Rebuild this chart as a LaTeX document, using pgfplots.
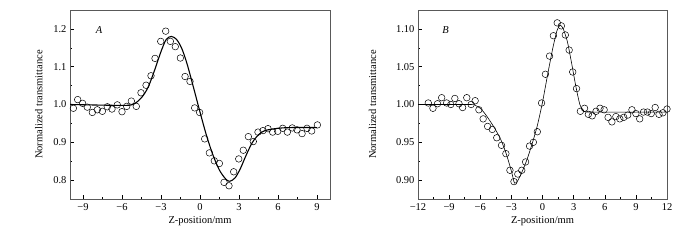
\documentclass[border=0pt]{standalone}
\usepackage{fontspec}
\setmainfont{Liberation Serif}
\usepackage{pgfplots}
\pgfplotsset{compat=1.18}
\pgfplotsset{
  zstyle/.style={
    scale only axis,
    anchor=south west,
    font=\fontsize{10.5}{12}\selectfont,
    tick label style={font=\fontsize{10.5}{12}\selectfont},
    axis line style={black!65, line width=0.8pt},
    tick align=inside,
    xtick pos=bottom, ytick pos=left,
    major tick length=4pt, minor tick length=2pt,
    every tick/.style={black, line width=0.5pt},
    minor x tick num=1, minor y tick num=1,
    xlabel={Z-position/mm},
    ylabel={Normalized transmittance},
    x label style={at={(axis description cs:0.5,-0.116)}, anchor=center},
    xticklabel style={yshift=-1pt},
  }
}
\begin{document}
\begin{tikzpicture}
\path (0pt,0pt) rectangle (700pt,240pt);
% ---------- Panel A ----------
\begin{axis}[zstyle,
  at={(70pt,41pt)}, width=260pt, height=189pt,
  xmin=-10, xmax=10, ymin=0.75, ymax=1.25,
  xtick={-9,-6,-3,0,3,6,9},
  xticklabels={−9,−6,−3,0,3,6,9},
  ytick={0.8,0.9,1.0,1.1,1.2},
  yticklabels={0.8,0.9,1.0,1.1,1.2},
  y label style={at={(axis description cs:-0.12,0.5)}, anchor=center},
]
\addplot[black, line width=1.1pt, smooth, tension=0.5] coordinates {
(-10,1.0) (-7,0.998) (-5.5,0.998) (-5,1.003) (-4.5,1.018) (-4,1.045) (-3.5,1.09)
(-3,1.14) (-2.6,1.172) (-2.2,1.18) (-1.8,1.172) (-1.4,1.148) (-1,1.108) (-0.5,1.045)
(0,0.98) (0.5,0.918) (1,0.866) (1.5,0.826) (2,0.802) (2.3,0.797) (2.7,0.806)
(3.1,0.83) (3.5,0.862) (4,0.898) (4.5,0.92) (5,0.931) (6,0.937) (7,0.939) (9,0.939)
};
\addplot[only marks, mark=o, mark size=3.3pt, mark options={line width=0.5pt}, black] coordinates {
(-9.74,0.990) (-9.41,1.013) (-9.03,1.003) (-8.67,0.993) (-8.28,0.979) (-7.90,0.986)
(-7.51,0.982) (-7.13,0.994) (-6.77,0.988) (-6.36,0.999) (-6.00,0.981) (-5.64,0.995)
(-5.28,1.009) (-4.90,0.995) (-4.54,1.031) (-4.15,1.051) (-3.77,1.076) (-3.46,1.122)
(-3.02,1.167) (-2.64,1.194) (-2.28,1.167) (-1.90,1.153) (-1.51,1.123) (-1.15,1.074)
(-0.77,1.061) (-0.41,0.991) (-0.03,0.979) (0.36,0.909) (0.72,0.872) (1.10,0.851)
(1.49,0.844) (1.85,0.794) (2.23,0.785) (2.59,0.822) (2.98,0.856) (3.33,0.879)
(3.72,0.915) (4.10,0.902) (4.46,0.927) (4.85,0.931) (5.23,0.936) (5.59,0.927)
(5.98,0.929) (6.36,0.937) (6.72,0.927) (7.10,0.938) (7.46,0.933) (7.85,0.923)
(8.23,0.937) (8.59,0.930) (9.03,0.946)
};
\node[font=\fontsize{10.5}{12}\selectfont\itshape] at (axis cs:-7.77,1.198) {A};
\end{axis}
% ---------- Panel B ----------
\begin{axis}[zstyle,
  at={(418pt,41pt)}, width=249pt, height=189pt,
  xmin=-12, xmax=12, ymin=0.875, ymax=1.125,
  xtick={-12,-9,-6,-3,0,3,6,9,12},
  xticklabels={−12,−9,−6,−3,0,3,6,9,12},
  ytick={0.90,0.95,1.00,1.05,1.10},
  yticklabels={0.90,0.95,1.00,1.05,1.10},
  y label style={at={(axis description cs:-0.183,0.5)}, anchor=center},
]
\addplot[black, line width=0.6pt, smooth, tension=0.4] coordinates {
(-12,1.0) (-7,1.0) (-6.5,0.999) (-6,0.995) (-5.5,0.987) (-5,0.977) (-4.5,0.966)
(-4,0.953) (-3.5,0.935) (-3,0.912) (-2.7,0.896) (-2.4,0.899) (-2,0.91) (-1.5,0.927)
(-1,0.948) (-0.5,0.972) (0,1.003) (0.5,1.04) (1,1.075) (1.4,1.098) (1.7,1.105)
(2,1.1) (2.4,1.083) (2.8,1.055) (3.2,1.025) (3.6,1.0) (4,0.991) (5,0.99) (12,0.99)
};
\addplot[only marks, mark=o, mark size=3.3pt, mark options={line width=0.5pt}, black] coordinates {
(-11.01,1.002) (-10.56,0.995) (-10.12,1.001) (-9.72,1.009) (-9.24,1.002) (-8.84,1.000)
(-8.45,1.008) (-8.05,1.001) (-7.70,0.996) (-7.30,1.009) (-6.88,1.000) (-6.49,1.005)
(-6.13,0.993) (-5.72,0.981) (-5.29,0.971) (-4.84,0.967) (-4.41,0.956) (-3.95,0.946)
(-3.53,0.935) (-3.14,0.913) (-2.75,0.898) (-2.38,0.908) (-2.00,0.913) (-1.63,0.924)
(-1.25,0.945) (-0.88,0.950) (-0.50,0.964) (-0.09,1.002) (0.28,1.040) (0.68,1.064)
(1.05,1.091) (1.42,1.108) (1.82,1.104) (2.20,1.092) (2.57,1.072) (2.91,1.043)
(3.28,1.021) (3.65,0.991) (4.05,0.995) (4.42,0.987) (4.79,0.985) (5.16,0.991)
(5.54,0.995) (5.94,0.993) (6.32,0.983) (6.69,0.977) (7.07,0.984) (7.45,0.981)
(7.83,0.983) (8.21,0.986) (8.62,0.993) (9.00,0.988) (9.37,0.981) (9.74,0.990)
(10.11,0.990) (10.48,0.988) (10.86,0.996) (11.23,0.987) (11.60,0.989) (12.00,0.994)
};
\node[font=\fontsize{10.5}{12}\selectfont\itshape] at (axis cs:-9.34,1.099) {B};
\end{axis}
\end{tikzpicture}
\end{document}
